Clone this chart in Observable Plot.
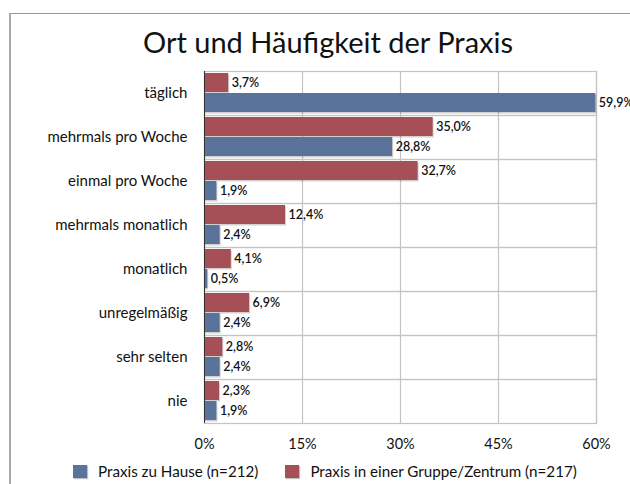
<!DOCTYPE html>
<html>
<head>
<meta charset="utf-8">
<script src="https://cdn.jsdelivr.net/npm/d3@7"></script>
<script src="https://cdn.jsdelivr.net/npm/@observablehq/plot@0.6"></script>
<style>
  html, body { margin: 0; padding: 0; background: #fff; }
  #wrap { position: relative; width: 630px; height: 484px; overflow: hidden; font-family: Lato, "Open Sans", sans-serif; color: #111; }
  #frame { position: absolute; left: 9px; top: 13px; width: 625px; height: 480px; border-left: 2px solid #a8a8a8; border-top: 1px solid #999; }
  #title { position: absolute; left: 0; width: 656px; top: 27px; text-align: center; font-size: 29px; line-height: 1; }
  #chart { position: absolute; left: 0; top: 60px; }
  #legend { position: absolute; left: 73px; top: 464px; display: flex; align-items: center; font-size: 15.2px; line-height: 1; white-space: nowrap; }
  .sw { display: inline-block; width: 14px; height: 13px; margin-right: 11px; box-shadow: 1px 1px 1px rgba(0,0,0,0.25); }
  .item { display: flex; align-items: center; margin-right: 27px; }
</style>
</head>
<body>
<div id="wrap">
  <div id="frame"></div>
  <div id="title">Ort und Häufigkeit der Praxis</div>
  <div id="chart"></div>
  <div id="legend"></div>
</div>
<script>
const categories = ["täglich", "mehrmals pro Woche", "einmal pro Woche", "mehrmals monatlich", "monatlich", "unregelmäßig", "sehr selten", "nie"];
const zuHause = [59.9, 28.8, 1.9, 2.4, 0.5, 2.4, 2.4, 1.9];
const gruppe = [3.7, 35.0, 32.7, 12.4, 4.1, 6.9, 2.8, 2.3];
const seriesNames = ["Praxis zu Hause (n=212)", "Praxis in einer Gruppe/Zentrum (n=217)"];
const seriesColors = ["#59739a", "#a64f56"];
const xTicks = [0, 15, 30, 45, 60];

const data = [];
categories.forEach((c, i) => {
  data.push({cat: c, series: seriesNames[1], value: gruppe[i]});
  data.push({cat: c, series: seriesNames[0], value: zuHause[i]});
});
const fmt = v => v.toFixed(1).replace(".", ",") + "%";

const chart = Plot.plot({
  width: 630,
  height: 400,
  marginTop: 8,
  marginBottom: 35,
  marginLeft: 204,
  marginRight: 34,
  style: {fontFamily: "Lato, 'Open Sans', sans-serif", fontSize: "14px", color: "#111", overflow: "visible"},
  x: {domain: [0, 60], label: null},
  y: {domain: [seriesNames[1], seriesNames[0]], axis: null, paddingInner: 0.04, paddingOuter: 0.1},
  fy: {domain: categories, padding: 0, label: null},
  color: {domain: seriesNames, range: seriesColors},
  marks: [
    Plot.gridX(xTicks, {stroke: "#c4c4c4", strokeOpacity: 1, strokeWidth: 1.2}),
    Plot.frame({stroke: "#c4c4c4", strokeWidth: 1.2}),
    Plot.barX(data, {x: "value", y: "series", fy: "cat", fill: "#000", fillOpacity: 0.18, dx: 1, dy: 1.5}),
    Plot.barX(data, {x: "value", y: "series", fy: "cat", fill: "series"}),
    Plot.text(data, {x: "value", y: "series", fy: "cat", text: d => fmt(d.value), dx: 3, textAnchor: "start", fontSize: 12.5, fontWeight: 600, fill: "#111"}),
    Plot.ruleX([0], {stroke: "#333", strokeWidth: 1}),
    Plot.axisX({ticks: xTicks, tickFormat: d => d + "%", tickSize: 0, tickPadding: 15, fontSize: 14.5, label: null}),
    Plot.axisFy({anchor: "left", tickSize: 0, tickPadding: 17, fontSize: 15, label: null})
  ]
});
document.getElementById("chart").appendChild(chart);

const legend = document.getElementById("legend");
seriesNames.forEach((name, i) => {
  const item = document.createElement("div");
  item.className = "item";
  const sw = document.createElement("span");
  sw.className = "sw";
  sw.style.background = seriesColors[i];
  const t = document.createElement("span");
  t.textContent = name;
  item.appendChild(sw);
  item.appendChild(t);
  legend.appendChild(item);
});
</script>
</body>
</html>
